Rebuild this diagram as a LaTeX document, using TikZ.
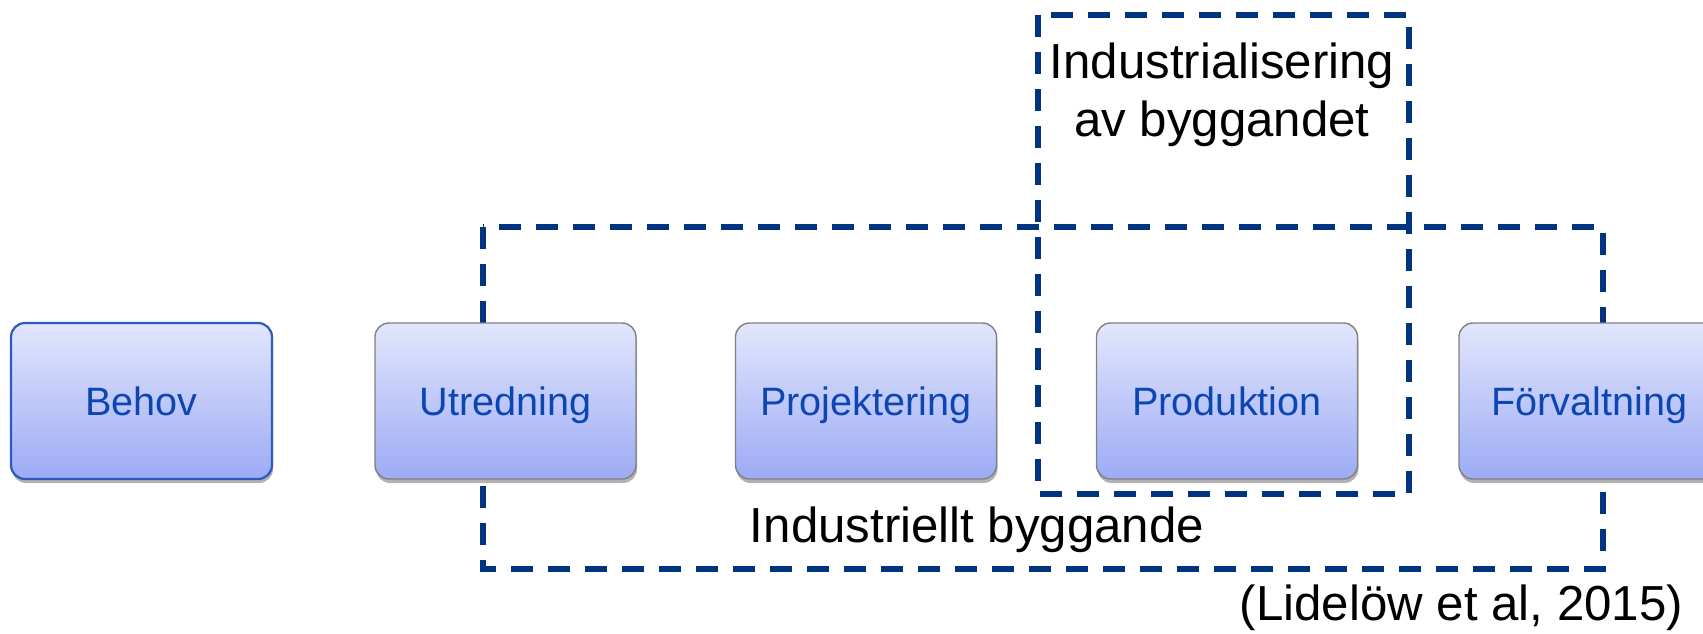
\documentclass[tikz,border=0pt]{standalone}
\usepackage{fontspec}
\setmainfont{Liberation Sans}
\usetikzlibrary{shadows}
\definecolor{phasetext}{RGB}{12,70,178}
\definecolor{phaseline}{RGB}{128,128,128}
\definecolor{firstline}{RGB}{45,90,190}
\definecolor{phasetop}{RGB}{226,230,252}
\definecolor{phasebottom}{RGB}{156,171,245}
\definecolor{frameblue}{RGB}{0,51,128}
\begin{document}
\begin{tikzpicture}[x=0.5pt,y=-0.5pt]
    \tikzstyle{phase}=[draw=phaseline, line width=0.7pt, rounded corners=7pt,
        top color=phasetop, bottom color=phasebottom,
        minimum width=130.5pt, minimum height=78pt, text=phasetext,
        text height=14.2pt, text depth=0pt,
        font=\fontsize{19.8}{24}\selectfont,
        drop shadow={shadow xshift=0.5pt, shadow yshift=-2pt, opacity=0.3, fill=black}]
    \tikzstyle{frame}=[draw=frameblue, line width=3pt, dash pattern=on 11pt off 7.5pt]
    \tikzstyle{caption}=[font=\fontsize{24.6}{29}\selectfont, align=center]
    \useasboundingbox (0,0) rectangle (1703,633);
    \clip (0,0) rectangle (1703,633);
    % dashed frames first, the phases cover them
    \draw[frame] (483,227) rectangle (1603,569);
    \draw[frame] (1038,15) rectangle (1409,494);
    % phases
    \node[phase, draw=firstline, line width=1.1pt] (behov) at (141.5,401) {Behov};
    \node[phase] (utredning) at (505.5,401) {Utredning};
    \node[phase] (projektering) at (866,401) {Projektering};
    \node[phase] (produktion) at (1227,401) {Produktion};
    \node[phase] (forvaltning) at (1589.5,401) {Förvaltning};
    % labels
    \node[caption] (industri) at (1222,95) {Industrialisering\\av byggandet};
    \node[caption] (byggande) at (977,530) {Industriellt byggande};
    \node[caption, anchor=east] (kalla) at (1690,608) {(Lidelöw et al, 2015)};
\end{tikzpicture}
\end{document}
